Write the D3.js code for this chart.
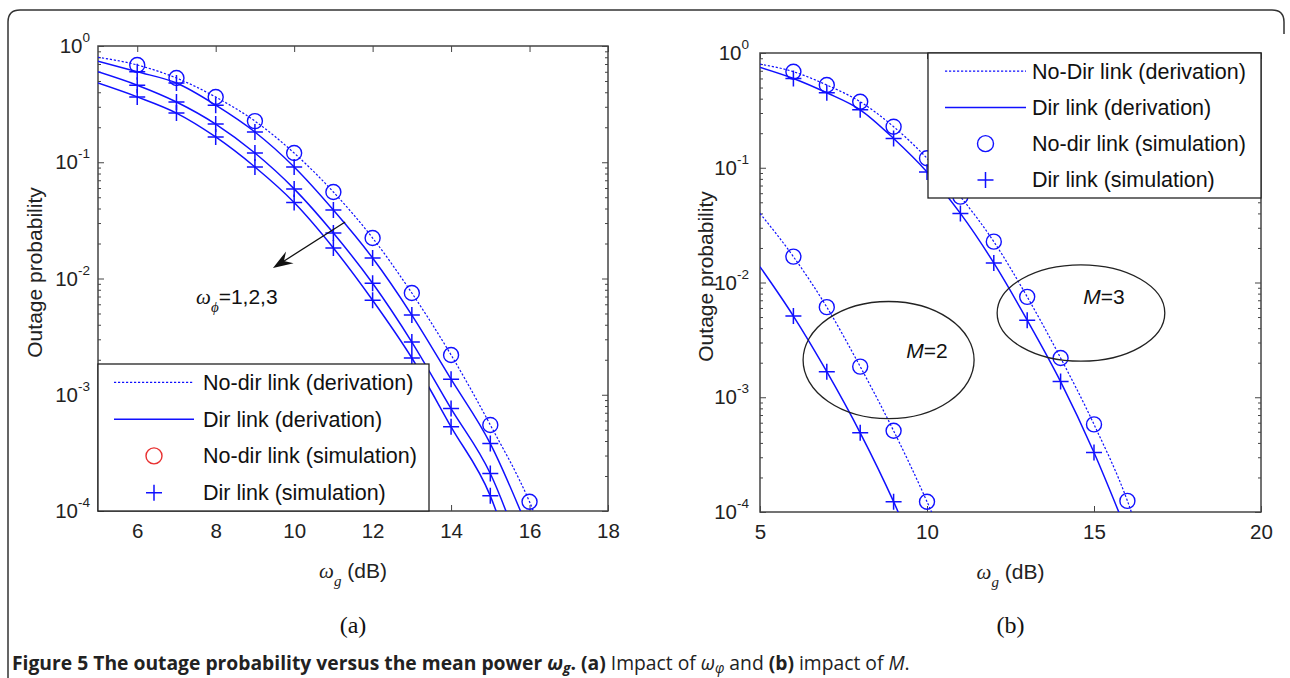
<!DOCTYPE html>
<html><head><meta charset="utf-8">
<script src="https://cdn.jsdelivr.net/npm/d3@7"></script>
<style>body{margin:0;background:#fff}svg{display:block}</style>
</head><body>
<svg id="c" width="1290" height="678"></svg>
<script>
// ---------------- data ----------------
// Panel (a): impact of omega_phi
const aX = [5, 6, 7, 8, 9, 10, 11, 12, 13, 14, 15, 16, 17];
const aNoDir = [0.80, 0.687, 0.53, 0.364, 0.226, 0.12, 0.0555, 0.0223, 0.0075, 0.0022, 5.5e-4, 1.2e-4, 1.5e-5];
const aDir1 = [0.74, 0.60, 0.48, 0.31, 0.182, 0.091, 0.0388, 0.015, 4.85e-3, 1.36e-3, 3.8e-4, 6.5e-5];
const aDir2 = [0.60, 0.46, 0.33, 0.213, 0.12, 0.059, 0.0246, 0.0091, 2.84e-3, 7.6e-4, 2.1e-4, 2.8e-5];
const aDir3 = [0.48, 0.365, 0.265, 0.165, 0.091, 0.045, 0.0183, 0.0065, 2.07e-3, 5.3e-4, 1.35e-4, 1.2e-5];
const aCircleX = [6, 7, 8, 9, 10, 11, 12, 13, 14, 15, 16];
const aPlusX = [6, 7, 8, 9, 10, 11, 12, 13, 14, 15];
const aXTicks = [6, 8, 10, 12, 14, 16, 18];

// Panel (b): impact of M
const bX = [5, 6, 7, 8, 9, 10, 11, 12, 13, 14, 15, 16, 17];
const bM3NoDir = [0.80, 0.687, 0.526, 0.376, 0.228, 0.121, 0.056, 0.0227, 7.5e-3, 2.2e-3, 5.8e-4, 1.25e-4, 1.5e-5];
const bM3Dir = [0.75, 0.60, 0.45, 0.32, 0.18, 0.092, 0.040, 0.0148, 4.7e-3, 1.37e-3, 3.3e-4, 6.5e-5];
const bM2NoDir = [0.040, 0.0168, 6.1e-3, 1.85e-3, 5.1e-4, 1.23e-4, 2.5e-5];
const bM2Dir = [0.0137, 5.1e-3, 1.67e-3, 4.9e-4, 1.23e-4, 2.5e-5];
const bM3CircleX = [6, 7, 8, 9, 10, 11, 12, 13, 14, 15, 16];
const bM3PlusX = [6, 7, 8, 9, 10, 11, 12, 13, 14, 15];
const bM2CircleX = [6, 7, 8, 9, 10];
const bM2PlusX = [6, 7, 8, 9];
const bXTicks = [5, 10, 15, 20];

const yDecades = [1e-4, 1e-3, 1e-2, 1e-1, 1];
const yExp = ['-4', '-3', '-2', '-1', '0'];
const legendA = ['No-dir link (derivation)', 'Dir link (derivation)', 'No-dir link (simulation)', 'Dir link (simulation)'];
const legendB = ['No-Dir link (derivation)', 'Dir link (derivation)', 'No-dir link (simulation)', 'Dir link (simulation)'];

// ---------------- drawing ----------------
const BLUE = '#1010ff';
const AX = '#444';
const SANS = 'Liberation Sans, Arial, sans-serif';
const SERIF = 'Liberation Serif, Times New Roman, serif';
const svg = d3.select('#c');
svg.append('rect').attr('width', 1290).attr('height', 678).attr('fill', '#fff');
svg.append('path')
  .attr('d', 'M8,678 L8,22 Q8,10 20,10 L1272,10 Q1284,10 1284,22 L1284,34')
  .attr('fill', 'none').attr('stroke', '#333').attr('stroke-width', 1.5);

const minorVals = [];
for (let e = -4; e < 0; e++) for (let m = 2; m <= 9; m++) minorVals.push(m * Math.pow(10, e));

function zip(xs, ys) { return ys.map((v, i) => [xs[i], v]); }
function pick(xs, ys, sel) { return sel.map(v => [v, ys[xs.indexOf(v)]]); }

function panel(p) {
  const x = d3.scaleLinear().domain(p.xDomain).range([p.L, p.R]);
  const y = d3.scaleLog().domain([1e-4, 1]).range([p.B, p.T]);
  const g = svg.append('g');
  g.append('clipPath').attr('id', 'clip' + p.id).append('rect')
    .attr('x', p.L).attr('y', p.T).attr('width', p.R - p.L).attr('height', p.B - p.T);

  const style = sel => {
    sel.select('.domain').remove();
    sel.selectAll('line').attr('stroke', AX).attr('stroke-width', 1);
    sel.selectAll('text').attr('font-family', SANS).attr('font-size', 20.5).attr('fill', '#222');
  };
  g.append('g').attr('transform', `translate(0,${p.B})`)
    .call(d3.axisBottom(x).tickValues(p.xTicks).tickSize(-6).tickPadding(12).tickFormat(d3.format('d'))).call(style);
  g.append('g').attr('transform', `translate(0,${p.T})`)
    .call(d3.axisTop(x).tickValues(p.xTicks).tickSize(-6).tickFormat('')).call(style);
  g.append('g').attr('transform', `translate(${p.L},0)`)
    .call(d3.axisLeft(y).tickValues(yDecades).tickSize(-6).tickFormat('')).call(style);
  g.append('g').attr('transform', `translate(${p.R},0)`)
    .call(d3.axisRight(y).tickValues(yDecades).tickSize(-6).tickFormat('')).call(style);
  g.append('g').attr('transform', `translate(${p.L},0)`)
    .call(d3.axisLeft(y).tickValues(minorVals).tickSize(-3).tickFormat('')).call(style);
  g.append('g').attr('transform', `translate(${p.R},0)`)
    .call(d3.axisRight(y).tickValues(minorVals).tickSize(-3).tickFormat('')).call(style);

  // y tick labels 10^k
  yDecades.forEach((v, i) => {
    const t = g.append('text').attr('x', p.L - p.yLabGap).attr('y', y(v) + 7)
      .attr('text-anchor', 'end').attr('font-family', SANS).attr('font-size', 20.5).attr('fill', '#222');
    t.append('tspan').text('10');
    t.append('tspan').attr('dy', -11).attr('font-size', 13.5).text(yExp[i]);
  });

  // box
  g.append('rect').attr('x', p.L).attr('y', p.T).attr('width', p.R - p.L).attr('height', p.B - p.T)
    .attr('fill', 'none').attr('stroke', AX).attr('stroke-width', 1.5);

  // axis titles
  const xt = g.append('text').attr('x', (p.L + p.R) / 2).attr('y', p.B + 67)
    .attr('text-anchor', 'middle').attr('font-family', SANS).attr('font-size', 21).attr('fill', '#222');
  xt.append('tspan').attr('font-family', SERIF).attr('font-style', 'italic').text('ω');
  xt.append('tspan').attr('font-family', SERIF).attr('font-style', 'italic').attr('dy', 8).attr('font-size', 15).text('g');
  xt.append('tspan').attr('dy', -8).text(' (dB)');
  g.append('text').attr('transform', `translate(${p.L - p.yTitleOff},${(p.T + p.B) / 2 - 6}) rotate(-90)`)
    .attr('text-anchor', 'middle').attr('font-family', SANS).attr('font-size', 21).attr('fill', '#222')
    .text('Outage probability');
  g.append('text').attr('x', (p.L + p.R) / 2).attr('y', 633).attr('text-anchor', 'middle')
    .attr('font-family', SERIF).attr('font-size', 24).attr('fill', '#111').text(p.sub);

  const plot = g.append('g').attr('clip-path', `url(#clip${p.id})`);
  const line = d3.line().defined(d => d[1] != null).x(d => x(d[0])).y(d => y(d[1])).curve(d3.curveMonotoneX);
  return { x, y, g, plot, line };
}

function drawLine(P, pts, dotted) {
  P.plot.append('path').datum(pts).attr('d', P.line).attr('fill', 'none')
    .attr('stroke', BLUE).attr('stroke-width', dotted ? 1.2 : 1.5)
    .attr('stroke-dasharray', dotted ? '2.2,1.8' : null);
}
function drawCircles(P, pts, color) {
  P.g.selectAll(null).data(pts).enter().append('circle')
    .attr('cx', d => P.x(d[0])).attr('cy', d => P.y(d[1])).attr('r', 7.5)
    .attr('fill', 'none').attr('stroke', color || BLUE).attr('stroke-width', 1.4);
}
function drawPlus(P, pts) {
  P.g.selectAll(null).data(pts).enter().append('path')
    .attr('d', d => { const cx = P.x(d[0]), cy = P.y(d[1]); return `M${cx - 8},${cy}H${cx + 8}M${cx},${cy - 8}V${cy + 8}`; })
    .attr('stroke', BLUE).attr('stroke-width', 1.5).attr('fill', 'none');
}
function legend(P, box, labels, circleColor) {
  const g = P.g.append('g');
  g.append('rect').attr('x', box.x).attr('y', box.y).attr('width', box.w).attr('height', box.h)
    .attr('fill', '#fff').attr('stroke', '#222').attr('stroke-width', 1.3);
  const rowH = box.h / 4;
  labels.forEach((lab, i) => {
    const cy = box.y + rowH * (i + 0.5);
    const lx0 = box.x + box.lineX0, lx1 = box.x + box.lineX1, mx = (lx0 + lx1) / 2;
    if (i === 0) g.append('line').attr('x1', lx0).attr('x2', lx1).attr('y1', cy).attr('y2', cy)
      .attr('stroke', BLUE).attr('stroke-width', 1.2).attr('stroke-dasharray', '2.2,1.8');
    if (i === 1) g.append('line').attr('x1', lx0).attr('x2', lx1).attr('y1', cy).attr('y2', cy)
      .attr('stroke', BLUE).attr('stroke-width', 1.5);
    if (i === 2) g.append('circle').attr('cx', mx).attr('cy', cy).attr('r', 8)
      .attr('fill', 'none').attr('stroke', circleColor).attr('stroke-width', 1.4);
    if (i === 3) g.append('path').attr('d', `M${mx - 8},${cy}H${mx + 8}M${mx},${cy - 8}V${cy + 8}`)
      .attr('stroke', BLUE).attr('stroke-width', 1.5);
    g.append('text').attr('x', box.x + box.textX).attr('y', cy + 7.5).attr('font-family', SANS)
      .attr('font-size', 21.5).attr('fill', '#111').text(lab);
  });
}

// ---- Panel (a) ----
const A = panel({ id: 'a', L: 98, R: 608, T: 46, B: 511, xDomain: [5, 18], xTicks: aXTicks, sub: '(a)', yLabGap: 8, yTitleOff: 56 });
drawLine(A, zip(aX, aNoDir), true);
[aDir1, aDir2, aDir3].forEach(s => drawLine(A, zip(aX, s), false));
[aDir1, aDir2, aDir3].forEach(s => drawPlus(A, pick(aX, s, aPlusX)));
drawCircles(A, pick(aX, aNoDir, aCircleX));

// arrow annotation
{
  const x0 = A.x(11.3), y0 = A.y(0.0306), x1 = A.x(9.46), y1 = A.y(0.0123);
  const dx = x1 - x0, dy = y1 - y0, len = Math.hypot(dx, dy), ux = dx / len, uy = dy / len, nx = -uy, ny = ux;
  A.g.append('line').attr('x1', x0).attr('y1', y0).attr('x2', x1 - ux * 10).attr('y2', y1 - uy * 10)
    .attr('stroke', '#111').attr('stroke-width', 1.3);
  const pts = [[x1, y1], [x1 - 20 * ux + 7 * nx, y1 - 20 * uy + 7 * ny], [x1 - 13 * ux, y1 - 13 * uy], [x1 - 20 * ux - 7 * nx, y1 - 20 * uy - 7 * ny]];
  A.g.append('path').attr('d', 'M' + pts.map(p => p.join(',')).join('L') + 'Z').attr('fill', '#111');
  const t = A.g.append('text').attr('x', A.x(7.5)).attr('y', A.y(6.0e-3)).attr('font-family', SANS)
    .attr('font-size', 21).attr('fill', '#111');
  t.append('tspan').attr('font-family', SERIF).attr('font-style', 'italic').text('ω');
  t.append('tspan').attr('font-family', SERIF).attr('font-style', 'italic').attr('dy', 8).attr('font-size', 15).text('ϕ');
  t.append('tspan').attr('dy', -8).text('=1,2,3');
}
legend(A, { x: 98, y: 364, w: 331, h: 147, lineX0: 16, lineX1: 96, textX: 105 }, legendA, '#e83030');

// ---- Panel (b) ----
const B = panel({ id: 'b', L: 760, R: 1261, T: 53, B: 512, xDomain: [5, 20], xTicks: bXTicks, sub: '(b)', yLabGap: 11, yTitleOff: 47 });
drawLine(B, zip(bX, bM3NoDir), true);
drawLine(B, zip(bX, bM3Dir), false);
drawLine(B, zip(bX, bM2NoDir), true);
drawLine(B, zip(bX, bM2Dir), false);
drawCircles(B, pick(bX, bM3NoDir, bM3CircleX));
drawPlus(B, pick(bX, bM3Dir, bM3PlusX));
drawCircles(B, pick(bX, bM2NoDir, bM2CircleX));
drawPlus(B, pick(bX, bM2Dir, bM2PlusX));

// ellipses
function ellipse(P, cxv, cyv, rxUnits, ryDec, label) {
  const cx = P.x(cxv), cy = P.y(cyv);
  const rx = P.x(cxv + rxUnits) - cx, ry = P.y(cyv / Math.pow(10, ryDec)) - cy;
  P.g.append('ellipse').attr('cx', cx).attr('cy', cy).attr('rx', rx).attr('ry', ry)
    .attr('fill', 'none').attr('stroke', '#222').attr('stroke-width', 1.3);
  const t = P.g.append('text').attr('x', label.x).attr('y', label.y).attr('text-anchor', 'middle')
    .attr('font-family', SANS).attr('font-size', 21).attr('fill', '#111');
  t.append('tspan').attr('font-style', 'italic').text('M');
  t.append('tspan').text(label.v);
}
ellipse(B, 8.85, 2.11e-3, 2.56, 0.51, { x: B.x(10.0), y: B.y(2.2e-3), v: '=2' });
ellipse(B, 14.61, 5.42e-3, 2.51, 0.42, { x: B.x(15.3), y: B.y(6.5e-3), v: '=3' });

legend(B, { x: 928, y: 53, w: 333, h: 145, lineX0: 17, lineX1: 98, textX: 104 }, legendB, BLUE);

// ---- caption ----
{
  const t = svg.append('text').attr('x', 12).attr('y', 670).attr('font-family', 'Open Sans, sans-serif')
    .attr('font-size', 19.3).attr('fill', '#222');
  t.append('tspan').attr('font-weight', 'bold').text('Figure 5 The outage probability versus the mean power ');
  t.append('tspan').attr('font-weight', 'bold').attr('font-style', 'italic').text('ω');
  t.append('tspan').attr('font-weight', 'bold').attr('font-style', 'italic').attr('dy', 3).attr('font-size', 14).text('g');
  t.append('tspan').attr('font-weight', 'bold').attr('dy', -3).text('. (a)');
  t.append('tspan').text(' Impact of ');
  t.append('tspan').attr('font-style', 'italic').text('ω');
  t.append('tspan').attr('font-style', 'italic').attr('dy', 3).attr('font-size', 14).text('φ');
  t.append('tspan').attr('dy', -3).text(' and ');
  t.append('tspan').attr('font-weight', 'bold').text('(b)');
  t.append('tspan').text(' impact of ');
  t.append('tspan').attr('font-style', 'italic').text('M');
  t.append('tspan').text('.');
}
</script>
</body></html>
